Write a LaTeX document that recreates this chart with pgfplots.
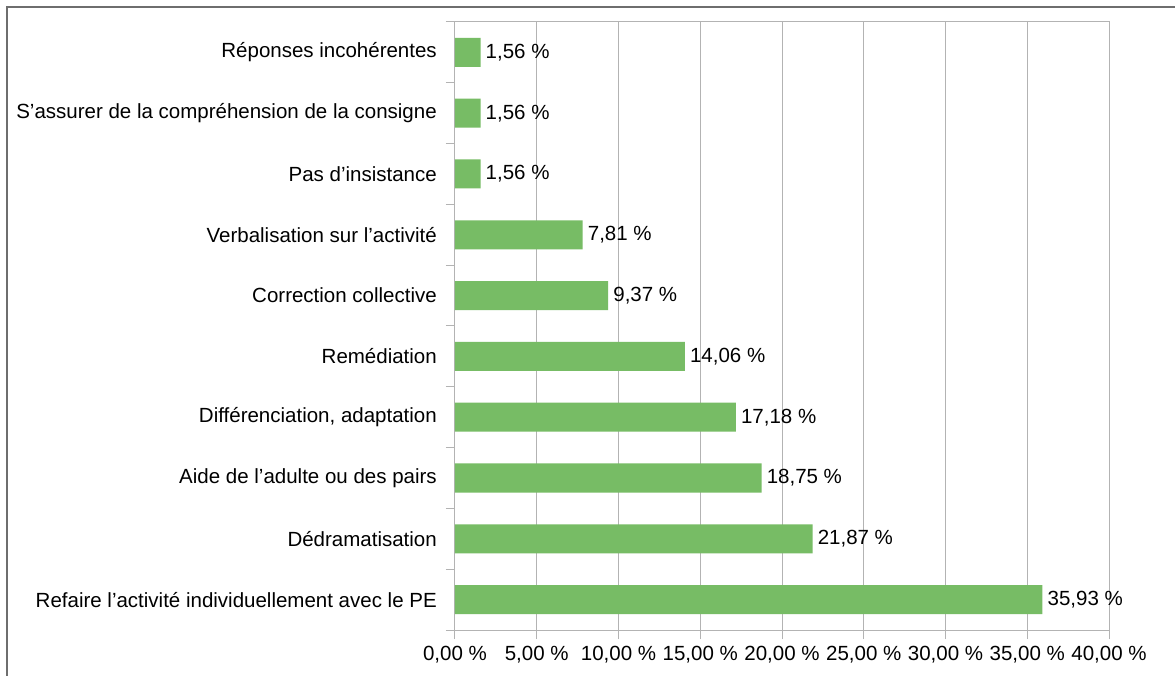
\documentclass[border=0pt]{standalone}
\usepackage{pgfplots}
\pgfplotsset{compat=1.18}
\usepackage{fontspec}
\setmainfont{Liberation Sans}
\definecolor{bargreen}{HTML}{77BC65}
\definecolor{gridgray}{HTML}{B3B3B3}
\definecolor{framegray}{HTML}{6E6E6E}
\begin{document}
\begin{tikzpicture}
\useasboundingbox (0,0) rectangle (1175pt,675pt);
\fill[white] (0,0) rectangle (1175pt,675pt);
\draw[framegray, line width=2pt] (7pt,-5pt) -- (7pt,667.5pt) -- (1180pt,667.5pt);
\begin{axis}[
  at={(455pt,45pt)}, anchor=south west,
  scale only axis, width=654pt, height=608pt,
  xbar, bar width=0.477,
  xmin=0, xmax=40, ymin=-0.5, ymax=9.5,
  enlargelimits=false,
  xtick={0,5,...,40},
  xticklabels={{0,00 \%},{5,00 \%},{10,00 \%},{15,00 \%},{20,00 \%},{25,00 \%},{30,00 \%},{35,00 \%},{40,00 \%}},
  ytick={0,...,9},
  yticklabels={{Refaire l’activité individuellement avec le PE},{Dédramatisation},{Aide de l’adulte ou des pairs},{Différenciation, adaptation},{Remédiation},{Correction collective},{Verbalisation sur l’activité},{Pas d’insistance},{S’assurer de la compréhension de la consigne},{Réponses incohérentes}},
  minor ytick={-0.5,0.5,...,9.5},
  xtick pos=lower, ytick pos=left,
  tick align=outside,
  major tick length=9pt, minor tick length=9pt,
  major y tick style={draw=none},
  minor y tick style={draw=gridgray, line width=1pt},
  major x tick style={draw=gridgray, line width=1pt},
  xmajorgrids, major grid style={gridgray, line width=1pt},
  axis line style={gridgray, line width=1pt},
  tick label style={font=\fontsize{20.5}{24}\selectfont, text=black},
  yticklabel style={anchor=east, inner sep=0pt, xshift=-9pt},
  xticklabel style={anchor=north, inner sep=0pt, yshift=-7pt},
  nodes near coords, point meta=explicit symbolic,
  every node near coord/.append style={font=\fontsize{20.5}{24}\selectfont, text=black, anchor=west, inner sep=0pt, xshift=5pt},
]
\addplot[fill=bargreen, draw=none] coordinates {
  (35.93,0) [35,93 \%]
  (21.87,1) [21,87 \%]
  (18.75,2) [18,75 \%]
  (17.18,3) [17,18 \%]
  (14.06,4) [14,06 \%]
  (9.37,5) [9,37 \%]
  (7.81,6) [7,81 \%]
  (1.56,7) [1,56 \%]
  (1.56,8) [1,56 \%]
  (1.56,9) [1,56 \%]
};
\end{axis}
\end{tikzpicture}
\end{document}
